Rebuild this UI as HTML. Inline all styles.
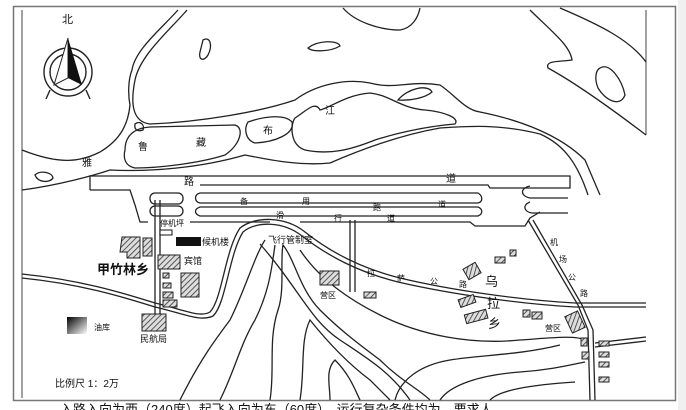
<!DOCTYPE html>
<html><head><meta charset="utf-8"><style>
html,body{margin:0;padding:0;background:#fff;}
svg{display:block;}
text{font-family:"Liberation Sans","Noto Sans CJK SC",sans-serif;fill:#111;}
</style></head><body>
<svg width="686" height="410" viewBox="0 0 686 410" xmlns="http://www.w3.org/2000/svg">
<defs>
<pattern id="h" width="4" height="4" patternUnits="userSpaceOnUse" patternTransform="rotate(45)">
<rect width="4" height="4" fill="#ddd"/><line x1="0" y1="0" x2="0" y2="4" stroke="#333" stroke-width="1.6"/></pattern>
<linearGradient id="g" x1="0" y1="0" x2="1" y2="1"><stop offset="0" stop-color="#000"/><stop offset="1" stop-color="#fff"/></linearGradient>
</defs>
<rect x="0" y="0" width="686" height="410" fill="#fff"/>
<rect x="678" y="0" width="8" height="410" fill="#f0f0f0"/>
<rect x="13.5" y="6.5" width="662" height="394" fill="none" stroke="#777" stroke-width="1.5"/>
<line x1="22" y1="10" x2="22" y2="398" stroke="#444" stroke-width="1"/>
<line x1="646" y1="10" x2="646" y2="135" stroke="#444" stroke-width="1"/>
<g fill="none" stroke="#222" stroke-width="1.3">
<!-- rivers -->
<path d="M187,10 C170,30 140,55 135,80 C130,105 133,122 150,124 C200,122 260,112 295,100 C315,85 345,78 370,83 C395,90 410,80 440,85 C455,95 465,110 480,112 C520,120 560,135 585,160 L600,195"/>
<path d="M178,10 C160,30 135,50 132,70 C128,80 128,95 130,105 C128,125 120,140 100,152 C80,162 60,165 22,150"/>
<path d="M22,190 C60,185 95,175 110,170 C150,172 200,168 245,155 C270,160 300,166 330,163 C360,150 400,135 440,128 C470,126 500,124 540,134 C565,145 578,165 588,195"/>
<path d="M343,8 C355,22 380,30 400,30 C412,28 418,18 420,8"/>
<path d="M530,10 C550,30 570,45 572,60 C560,62 545,60 548,68 C570,80 600,100 646,135"/>
<path d="M560,8 C600,25 630,40 646,62"/>
<path d="M600,68 C610,62 622,80 625,95 C620,108 605,100 598,88 C594,78 596,70 600,68Z"/>
<path d="M125,150 C125,135 135,128 150,127 L235,125 C245,128 240,145 225,155 C200,163 160,168 135,168 C125,166 123,158 125,150Z"/>
<path d="M248,122 C265,116 285,114 292,122 C295,134 275,142 255,143 C245,140 244,128 248,122Z"/>
<path d="M295,118 C305,112 315,100 320,110 C330,108 345,95 370,93 C390,95 400,108 425,110 C445,112 460,118 455,124 C430,126 400,132 375,140 C350,150 330,155 305,150 C290,145 290,125 295,118Z"/>
<path d="M398,100 C408,88 428,84 432,92 C425,98 410,101 398,100Z"/>
<path d="M203,40 C210,36 213,45 208,55 C204,62 198,60 200,52Z"/>
<path d="M308,48 C318,40 338,40 340,46 C330,52 312,52 308,48Z"/>
<path d="M35,175 C40,170 52,172 53,178 C50,183 38,183 35,175Z"/>
<path d="M135,124 C140,120 145,125 143,130 C138,132 134,130 135,124Z"/>
<!-- runway -->
<path d="M90,190 L90,176 L570,176 L570,188 L490,188 L488,185 L200,185"/>
<rect x="150" y="193" width="33" height="11" rx="5"/>
<rect x="150" y="206" width="33" height="10" rx="5"/>
<path d="M200,193 L478,193 C483,196 483,202 478,203 L200,203 C194,202 194,194 200,193Z"/>
<path d="M200,207 L478,207 C483,209 483,214 478,216 L200,216 C194,214 194,209 200,207Z"/>
<path d="M530,186 C520,188 520,196 530,198 L568,198"/>
<path d="M530,202 C522,205 524,212 532,213 L568,213"/>
<path d="M90,190 L130,190 L135,205 L140,222 L148,222"/>
<path d="M190,222 L270,222 M300,222 L470,222 L475,226 L525,226 L530,218 L540,212"/>
<!-- roads -->
<path d="M22,274 C80,280 120,292 155,303 C185,310 200,318 210,312 C222,300 225,250 240,228 C255,216 285,216 305,232 C330,252 360,268 400,278 C450,290 520,300 575,303 L646,303"/>
<path d="M22,278 C80,284 120,296 155,307 C185,314 200,322 213,316 C226,304 229,254 243,232 C256,221 283,221 302,236 C328,256 358,272 398,282 C450,294 520,304 575,307 L646,307"/>
<path d="M528,220 L578,305 L588,330 L590,400"/>
<path d="M533,220 L582,305 L593,330 L595,400"/>
<path d="M155,200 L155,322 M160,200 L160,322"/>
<path d="M350,220 L350,292 M355,220 L355,292"/>
<path d="M595,343 L646,337 M595,347 L646,341"/>
<!-- contours -->
<path d="M180,400 C200,360 215,340 230,320 C245,290 255,255 265,240"/>
<path d="M220,400 C235,370 240,345 255,320 C270,290 272,265 275,245"/>
<path d="M270,400 C275,370 268,340 278,310 C285,290 280,260 283,245 C295,260 300,290 320,310 C340,330 360,345 380,360 C400,380 420,390 430,400"/>
<path d="M300,400 C305,370 300,340 310,320 C330,345 350,365 370,380 C380,390 390,400 390,400"/>
<path d="M330,400 C330,385 325,370 335,360 C350,375 355,390 360,400"/>
<path d="M300,250 C320,280 350,300 380,315 C420,335 470,345 520,340 C550,338 575,335 585,340"/>
<path d="M395,400 C400,380 420,365 450,360 C480,355 520,355 560,345"/>
<path d="M440,400 C450,385 480,375 520,372 C550,370 570,365 585,362"/>
<path d="M490,400 C500,390 530,385 575,382"/>
<path d="M260,244 C300,290 310,320 340,340 C370,360 390,372 410,400"/>
</g>
<!-- buildings -->
<g fill="url(#h)" stroke="#222" stroke-width="1">
<path d="M122,237 L140,237 L140,258 L127,258 L127,252 L120,252Z"/>
<rect x="143" y="238" width="9" height="18"/>
<rect x="158" y="255" width="22" height="14"/>
<rect x="181" y="273" width="18" height="24"/>
<rect x="163" y="273" width="6" height="5"/>
<rect x="163" y="283" width="8" height="5"/>
<rect x="163" y="292" width="10" height="6"/>
<rect x="163" y="300" width="14" height="7"/>
<rect x="142" y="314" width="24" height="17"/>
<rect x="320" y="271" width="19" height="14"/>
<rect x="364" y="292" width="12" height="6"/>
<rect x="465" y="265" width="14" height="12" transform="rotate(-30 472 271)"/>
<rect x="459" y="297" width="16" height="8" transform="rotate(-20 467 301)"/>
<rect x="465" y="312" width="22" height="9" transform="rotate(-15 476 316)"/>
<rect x="568" y="313" width="14" height="18" transform="rotate(-25 575 322)"/>
<rect x="495" y="257" width="10" height="6"/>
<rect x="510" y="250" width="6" height="6"/>
<rect x="523" y="310" width="7" height="7"/>
<rect x="532" y="312" width="10" height="7"/>
<rect x="581" y="338" width="6" height="8"/>
<rect x="599" y="341" width="10" height="5"/>
<rect x="599" y="352" width="10" height="5"/>
<rect x="599" y="362" width="10" height="5"/>
<rect x="599" y="377" width="10" height="5"/>
<rect x="582" y="352" width="7" height="7"/>
</g>
<rect x="176" y="237" width="25" height="9" fill="#111"/>
<rect x="160" y="230" width="12" height="5" fill="#fff" stroke="#111"/>
<rect x="67" y="317" width="20" height="17" fill="url(#g)"/>
<!-- compass -->
<g stroke="#222" fill="none" stroke-width="1.4">
<circle cx="68" cy="72" r="24"/><circle cx="68" cy="72" r="18"/>
<line x1="50" y1="90" x2="46" y2="99"/><line x1="86" y1="90" x2="90" y2="99"/>
</g>
<path d="M68,38 L54,85 L68,78Z" fill="#fff" stroke="#222"/>
<path d="M68,38 L82,85 L68,78Z" fill="#111"/>
<g font-size="10">
<text x="62" y="23" font-size="11">北</text>
<text x="82" y="166">雅</text><text x="138" y="150">鲁</text><text x="196" y="146">藏</text>
<text x="263" y="134">布</text><text x="325" y="114">江</text>
<text x="184" y="185">路</text><text x="446" y="182">道</text>
<text x="240" y="204" font-size="8">备</text><text x="302" y="204" font-size="8">用</text>
<text x="373" y="210" font-size="8">跑</text><text x="438" y="207" font-size="8">道</text>
<text x="276" y="218" font-size="8">滑</text><text x="334" y="221" font-size="8">行</text><text x="387" y="221" font-size="8">道</text>
<text x="160" y="226" font-size="8">停机坪</text>
<text x="202" y="245" font-size="9">候机楼</text>
<text x="184" y="264" font-size="9">宾馆</text>
<text x="268" y="243" font-size="9">飞行管制室</text>
<text x="97" y="274" font-size="13" font-weight="bold">甲竹林乡</text>
<text x="94" y="330" font-size="8">油库</text>
<text x="140" y="342" font-size="9">民航局</text>
<text x="55" y="387" font-size="10">比例尺 1：2万</text>
<text x="320" y="298" font-size="8">营区</text>
<text x="367" y="276" font-size="8">拉</text><text x="397" y="281" font-size="8">萨</text>
<text x="430" y="284" font-size="8">公</text><text x="459" y="287" font-size="8">路</text>
<text x="485" y="286" font-size="13">乌</text><text x="487" y="308" font-size="13">拉</text><text x="488" y="328" font-size="13">乡</text>
<text x="545" y="331" font-size="8">营区</text>
<text x="550" y="245" font-size="8">机</text><text x="559" y="262" font-size="8">场</text>
<text x="568" y="280" font-size="8">公</text><text x="580" y="296" font-size="8">路</text>
</g>
<text x="60" y="414" font-size="13" fill="#555">入路入向为西（240度）起飞入向为东（60度），运行复杂条件均为，要求人</text>
</svg>
</body></html>
